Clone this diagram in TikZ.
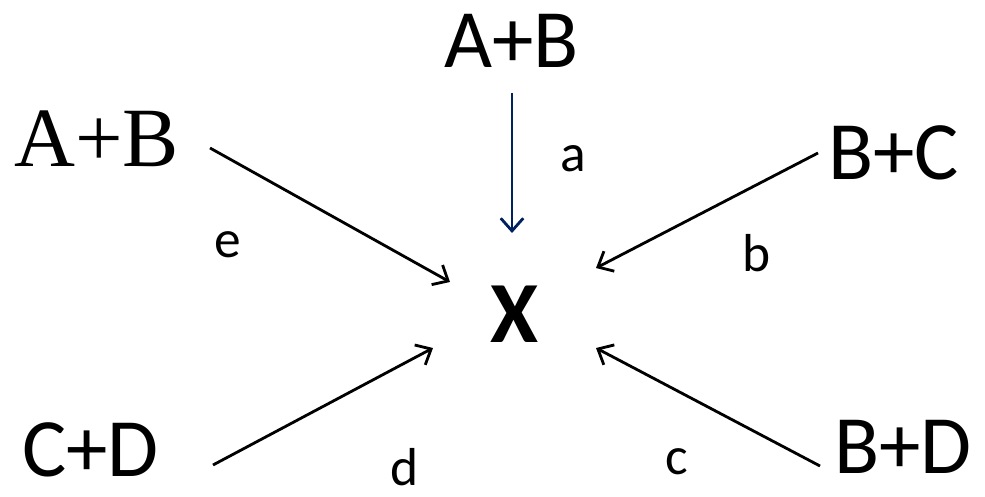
\documentclass[tikz,border=0pt]{standalone}
\usepackage{fontspec}
\setmainfont{Carlito}
\newfontfamily\serifAB{Liberation Serif}
\usetikzlibrary{arrows.meta}
\definecolor{routeblue}{RGB}{0,32,96}

\tikzset{
  reactant/.style={inner sep=0pt, anchor=base west, font=\fontsize{59}{62}\selectfont},
  pathlabel/.style={inner sep=0pt, anchor=base, font=\fontsize{38}{42}\selectfont},
  route/.style={line width=2pt, -{Straight Barb[length=9pt,width=16pt]}},
}

\begin{document}
\begin{tikzpicture}[x=0.025cm, y=-0.025cm]
  \useasboundingbox (0,0) rectangle (985,497);
  % product
  \node[inner sep=0pt, anchor=base, font=\fontsize{62}{66}\selectfont\bfseries] (X) at (515,343) {X};
  % reactant pairs
  \node[reactant] (ABtop) at (444,68) {A+B};
  \node[reactant, font=\fontsize{60}{63}\selectfont\serifAB] (ABleft) at (14,167) {A+B};
  \node[reactant] (BC) at (828,180) {B+C};
  \node[reactant] (CD) at (22,476) {C+D};
  \node[reactant] (BD) at (834,473) {B+D};
  % route labels
  \node[pathlabel] (la) at (573,172) {a};
  \node[pathlabel] (lb) at (757,272) {b};
  \node[pathlabel] (lc) at (677,474) {c};
  \node[pathlabel] (ld) at (405,485) {d};
  \node[pathlabel] (le) at (228,258) {e};
  % arrow ends
  \coordinate (a-tail) at (512,93);   \coordinate (a-head) at (512,233);
  \coordinate (b-tail) at (818,153);  \coordinate (b-head) at (596,268);
  \coordinate (c-tail) at (820,466);  \coordinate (c-head) at (596,348);
  \coordinate (d-tail) at (213,465);  \coordinate (d-head) at (433,348);
  \coordinate (e-tail) at (210,148);  \coordinate (e-head) at (450,282);
  \draw[route, routeblue] (a-tail) -- (a-head);
  \draw[route] (b-tail) -- (b-head);
  \draw[route] (c-tail) -- (c-head);
  \draw[route] (d-tail) -- (d-head);
  \draw[route] (e-tail) -- (e-head);
\end{tikzpicture}
\end{document}
